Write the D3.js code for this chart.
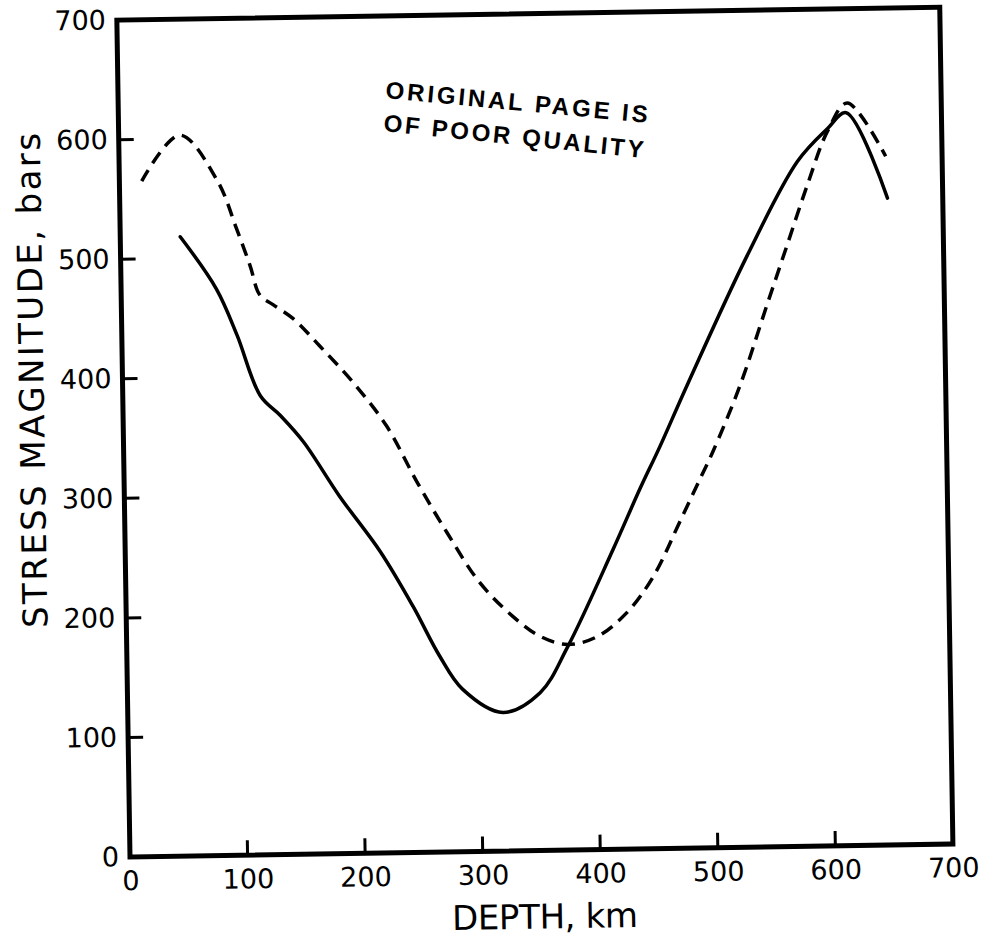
<!DOCTYPE html>
<html>
<head>
<meta charset="utf-8">
<script src="https://cdn.jsdelivr.net/npm/d3@7"></script>
<style>
  body { margin: 0; background: #fff; }
</style>
</head>
<body>
<div id="chart"></div>
<script>
// solid curve
const depthSolid = [51, 81, 98, 117, 134, 153, 183, 217, 244, 266, 285, 319, 351, 375, 415, 439, 456, 480, 533, 577, 603, 619, 653];
const stressSolid = [518, 474, 435, 384, 367, 345, 299, 252, 206, 164, 136, 116, 132, 170, 251, 302, 336, 387, 495, 573, 600, 613, 541];

// dashed curve
const depthDashed = [19, 52, 83, 99, 110, 118, 129, 146, 168, 196, 224, 249, 274, 301, 329, 352, 375, 400, 426, 449, 472, 490, 501, 525, 549, 567, 585, 603, 620, 652];
const stressDashed = [565, 603, 565, 524, 493, 468, 460, 448, 425, 394, 357, 310, 267, 225, 196, 179, 172, 178, 198, 228, 273, 309, 331, 386, 453, 503, 553, 598, 621, 576];

const xTicks = [0, 100, 200, 300, 400, 500, 600, 700];
const yTicks = [0, 100, 200, 300, 400, 500, 600, 700];

const width = 994;
const height = 942;
const plotW = 823;
const plotH = 837;
const tickLen = 15;
const font = "'DejaVu Sans', sans-serif";

const svg = d3.select('#chart')
    .append('svg')
    .attr('width', width)
    .attr('height', height)
    .style('background', '#fff');

// the scanned figure sits slightly tilted on the page
const g = svg.append('g')
    .attr('transform', 'translate(130,857) rotate(-0.9)');

const x = d3.scaleLinear().domain([0, 700]).range([0, plotW]);
const y = d3.scaleLinear().domain([0, 700]).range([0, -plotH]);

function xAxis(g) {
    g.call(d3.axisBottom(x).tickValues(xTicks).tickSize(0).tickPadding(14).tickFormat(d3.format('d')))
        .attr('font-size', 27)
        .attr('font-family', font);
    g.select('.domain').remove();
    g.selectAll('.tick text').attr('fill', '#000').attr('dy', '0.71em');
}

function yAxis(g) {
    g.call(d3.axisLeft(y).tickValues(yTicks).tickSize(0).tickPadding(11).tickFormat(d3.format('d')))
        .attr('font-size', 27)
        .attr('font-family', font);
    g.select('.domain').remove();
    g.selectAll('.tick text').attr('fill', '#000');
}

g.append('g').call(xAxis);
g.append('g').call(yAxis);

// inward tick marks (none at the corners)
g.append('g')
    .selectAll('line')
    .data(xTicks.filter(d => d > 0 && d < 700))
    .join('line')
        .attr('x1', d => x(d))
        .attr('x2', d => x(d))
        .attr('y1', y(0))
        .attr('y2', y(0) - tickLen)
        .attr('stroke', '#000')
        .attr('stroke-width', 3);

g.append('g')
    .selectAll('line')
    .data(yTicks.filter(d => d > 0 && d < 700))
    .join('line')
        .attr('x1', x(0))
        .attr('x2', x(0) + tickLen)
        .attr('y1', d => y(d))
        .attr('y2', d => y(d))
        .attr('stroke', '#000')
        .attr('stroke-width', 3);

// frame
g.append('rect')
    .attr('x', x(0))
    .attr('y', y(700))
    .attr('width', x(700) - x(0))
    .attr('height', y(0) - y(700))
    .attr('fill', 'none')
    .attr('stroke', '#000')
    .attr('stroke-width', 5);

const line = d3.line()
    .x(d => x(d[0]))
    .y(d => y(d[1]))
    .curve(d3.curveCatmullRom.alpha(0.5));

g.append('path')
    .datum(d3.zip(depthSolid, stressSolid))
    .attr('d', line)
    .attr('fill', 'none')
    .attr('stroke', '#000')
    .attr('stroke-width', 3.5)
    .attr('stroke-linejoin', 'round')
    .attr('stroke-linecap', 'round');

g.append('path')
    .datum(d3.zip(depthDashed, stressDashed))
    .attr('d', line)
    .attr('fill', 'none')
    .attr('stroke', '#000')
    .attr('stroke-width', 3.5)
    .attr('stroke-dasharray', '13,8');

// axis titles
g.append('text')
    .attr('x', 414)
    .attr('y', 78)
    .attr('text-anchor', 'middle')
    .attr('font-family', font)
    .attr('font-size', 34)
    .attr('textLength', 186)
    .attr('lengthAdjust', 'spacing')
    .text('DEPTH, km');

g.append('text')
    .attr('transform', 'translate(-79,-478) rotate(-90)')
    .attr('text-anchor', 'middle')
    .attr('font-family', font)
    .attr('font-size', 34)
    .attr('textLength', 495)
    .attr('lengthAdjust', 'spacing')
    .text('STRESS MAGNITUDE, bars');

// stamp
svg.append('text')
    .attr('transform', 'translate(385,98) rotate(5.4)')
    .attr('font-family', "'Liberation Sans', Arial, sans-serif")
    .attr('font-weight', 'bold')
    .attr('font-size', 24)
    .attr('textLength', 263)
    .attr('lengthAdjust', 'spacing')
    .text('ORIGINAL PAGE IS');

svg.append('text')
    .attr('transform', 'translate(383,131) rotate(5.9)')
    .attr('font-family', "'Liberation Sans', Arial, sans-serif")
    .attr('font-weight', 'bold')
    .attr('font-size', 24)
    .attr('textLength', 261)
    .attr('lengthAdjust', 'spacing')
    .text('OF POOR QUALITY');
</script>
</body>
</html>
